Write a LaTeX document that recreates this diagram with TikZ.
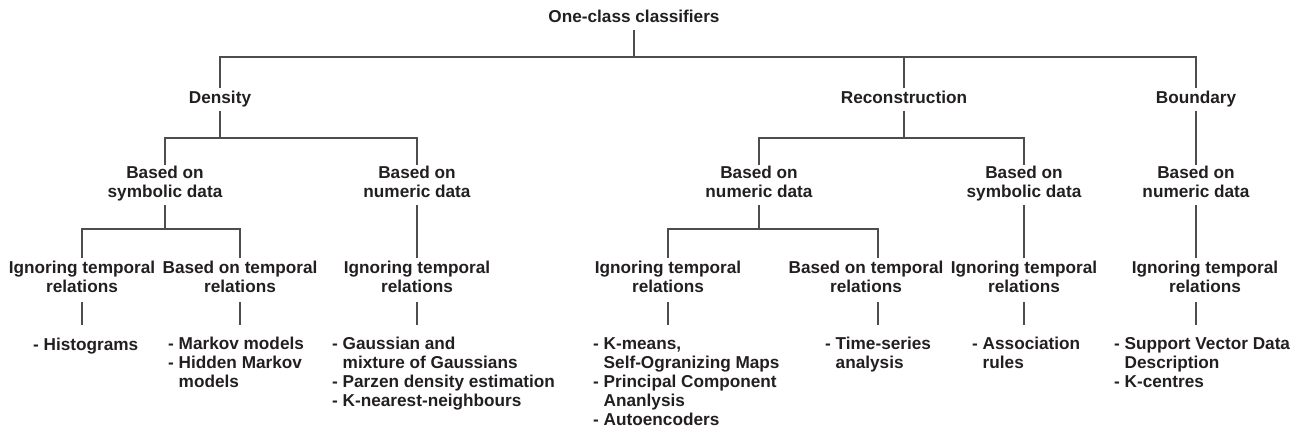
\documentclass[tikz,border=0pt]{standalone}
\usepackage{fontspec}
\setmainfont{Liberation Sans}
\usetikzlibrary{calc}
\definecolor{ink}{HTML}{231F20}
\definecolor{wire}{HTML}{4D4D4D}
\newcommand{\ind}{\hphantom{- }}

\begin{document}
\begin{tikzpicture}[x=1pt,y=-1pt]
    \tikzstyle{every node}=[font=\fontsize{17.2}{19}\selectfont\bfseries, text=ink,
        execute at begin node=\strut, execute at end node=\strut]
    \tikzstyle{cat}=[inner xsep=2pt, inner ysep=1.5pt]
    \tikzstyle{grp}=[align=center, inner xsep=2pt, inner ysep=1pt]
    \tikzstyle{rel}=[align=center, inner xsep=2pt, inner ysep=3.5pt]
    \tikzstyle{leaf}=[align=left, anchor=north west, inner sep=0pt]
    \tikzstyle{edge}=[wire, line width=1.1pt]
    \useasboundingbox (0,0) rectangle (1297,434);

     % top levels
     \node[cat] (root) at (634,18.5) {One-class classifiers};
     \node[cat] (dens) at (220,99.5) {Density};
     \node[cat] (rec) at (904,99.5) {Reconstruction};
     \node[cat] (bnd) at (1196,99.5) {Boundary};

     \node[grp] (dsym) at (165,185) {Based on\\symbolic data};
     \node[grp] (dnum) at (417,185) {Based on\\numeric data};
     \node[grp] (rnum) at (759,185) {Based on\\numeric data};
     \node[grp] (rsym) at (1024,185) {Based on\\symbolic data};
     \node[grp] (bnum) at (1196,185) {Based on\\numeric data};

     \node[rel] (dsi) at (82,280) {Ignoring temporal\\relations};
     \node[rel] (dst) at (240,280) {Based on temporal\\relations};
     \node[rel] (dni) at (417,280) {Ignoring temporal\\relations};
     \node[rel] (rni) at (668,280) {Ignoring temporal\\relations};
     \node[rel] (rnt) at (866,280) {Based on temporal\\relations};
     \node[rel] (rsi) at (1024,280) {Ignoring temporal\\relations};
     \node[rel] (bni) at (1205,280) {Ignoring temporal\\relations};

     % methods
     \node[leaf] (hist) at (33,337) {- Histograms};
     \node[leaf] (mark) at (168,337) {- Markov models\\- Hidden Markov\\\ind models};
     \node[leaf] (gauss) at (332,337) {- Gaussian and\\\ind mixture of Gaussians\\- Parzen density estimation\\- K-nearest-neighbours};
     \node[leaf] (kmean) at (593,337) {- K-means,\\\ind Self-Ogranizing Maps\\- Principal Component\\\ind Ananlysis\\- Autoencoders};
     \node[leaf] (tser) at (825,337) {- Time-series\\\ind analysis};
     \node[leaf] (assoc) at (972,337) {- Association\\\ind rules};
     \node[leaf] (svdd) at (1114,337) {- Support Vector Data\\\ind Description\\- K-centres};

     \coordinate (j0) at (634,57);
     \coordinate (dj) at (220,138);
     \coordinate (rj) at (904,138);
     \coordinate (dsj) at (165,229);
     \coordinate (rnj) at (759,229);

     \draw[edge] (root) -- (j0);
     \draw[edge] (dens) |- (j0) -| (bnd);
     \draw[edge] (rec) -- (rec |- j0);

     \draw[edge] (dens) -- (dj);
     \draw[edge] (dsym) |- (dj) -| (dnum);
     \draw[edge] (rec) -- (rj);
     \draw[edge] (rnum) |- (rj) -| (rsym);
     \draw[edge] (bnd) -- (bnum);

     \draw[edge] (dsym) -- (dsj);
     \draw[edge] (dsi) |- (dsj) -| (dst);
     \draw[edge] (dnum) -- (dni);
     \draw[edge] (rnum) -- (rnj);
     \draw[edge] (rni) |- (rnj) -| ([xshift=12pt]rnt.north);
     \draw[edge] (rsym) -- (rsi);
     \draw[edge] (bnum.south) -- (bnum.south |- bni.north);

     \draw[edge, shorten >=12pt] (dsi) -- (dsi |- hist.north);
     \draw[edge, shorten >=12pt] (dst) -- (dst |- mark.north);
     \draw[edge, shorten >=12pt] (dni) -- (dni |- gauss.north);
     \draw[edge, shorten >=12pt] (rni) -- (rni |- kmean.north);
     \draw[edge, shorten >=12pt] ([xshift=12pt]rnt.south) -- ([xshift=12pt]rnt.south |- tser.north);
     \draw[edge, shorten >=12pt] (rsi) -- (rsi |- assoc.north);
     \draw[edge, shorten >=12pt] (bnum.south |- bni.south) -- (bnum.south |- svdd.north);
\end{tikzpicture}
\end{document}
